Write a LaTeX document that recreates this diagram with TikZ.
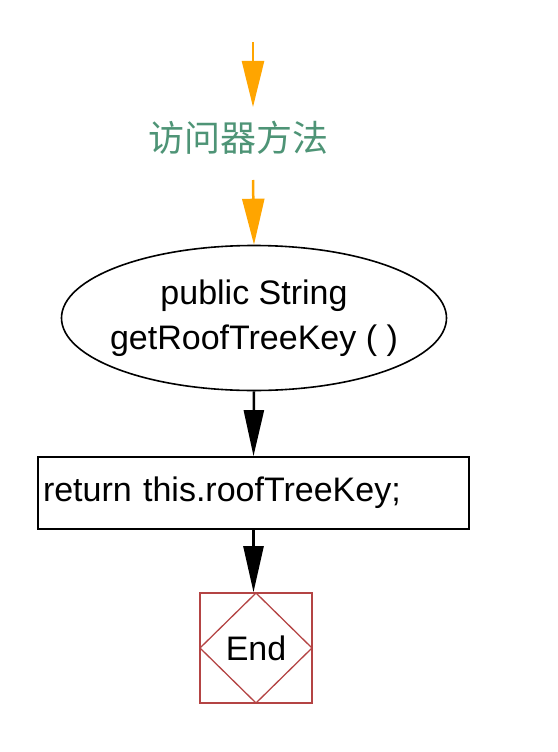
\documentclass[tikz,border=0pt]{standalone}
\usepackage{fontspec}
\setmainfont{Liberation Sans}
\newfontfamily\cjk{Noto Sans CJK SC}
\usetikzlibrary{arrows.meta,shapes.geometric}
\definecolor{flowor}{RGB}{255,165,0}
\definecolor{labelgreen}{RGB}{78,148,118}
\definecolor{endred}{RGB}{180,68,68}
\tikzset{
  orarrow/.style={draw=flowor,line width=2.5pt,-{Triangle[width=22pt,length=46pt]},flowor},
  blkarrow/.style={draw=black,line width=2.5pt,-{Triangle[width=20pt,length=46pt]}},
  codetext/.style={font=\fontsize{34}{45}\selectfont,text=black},
  methodell/.style={ellipse,draw,line width=1.6pt,minimum width=385pt,minimum height=145pt,inner xsep=-18pt,inner ysep=0pt,align=center,codetext},
  stmtbox/.style={rectangle,draw,line width=1.8pt,minimum width=431pt,minimum height=72pt,text width=421pt,inner sep=5pt,align=left,codetext},
  endbox/.style={rectangle,draw=endred,line width=1.6pt,minimum width=112pt,minimum height=110pt,inner sep=0pt,codetext,
    path picture={\draw[endred,line width=1.3pt] (path picture bounding box.north) -- (path picture bounding box.east) -- (path picture bounding box.south) -- (path picture bounding box.west) -- cycle;}},
  cjklabel/.style={font=\cjk\fontsize{36}{40}\selectfont,text=labelgreen,inner sep=0pt}
}
\begin{document}
\begin{tikzpicture}[x=1pt,y=-1pt]
\useasboundingbox (0,0) rectangle (557,752);
\coordinate (a1s) at (253,42);
\coordinate (a1e) at (253,107);
\node[cjklabel] (lbl) at (238,138) {访问器方法};
\coordinate (a2s) at (253,180);
\node[methodell] (meth) at (254,318) {public String\\getRoofTreeKey ( )};
\node[stmtbox] (ret) at (253.5,493) {return this.roofTreeKey;};
\node[endbox] (endn) at (256,648) {End};
\draw[orarrow] (a1s) -- (a1e);
\draw[orarrow] (a2s) -- (meth.north);
\draw[blkarrow] (meth.south) -- (ret.north);
\draw[blkarrow] (ret.south) -- (ret.south |- endn.north);
\end{tikzpicture}
\end{document}
